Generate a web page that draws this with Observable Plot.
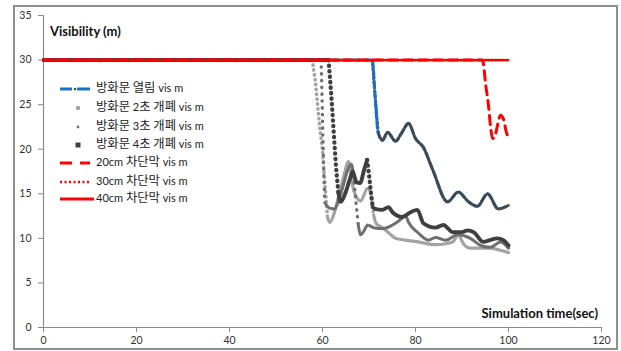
<!DOCTYPE html>
<html>
<head>
<meta charset="utf-8">
<script src="https://cdn.jsdelivr.net/npm/d3@7"></script>
<script src="https://cdn.jsdelivr.net/npm/@observablehq/plot@0.6"></script>
<style>
  html, body { margin: 0; padding: 0; background: #fff; }
  #wrap { position: relative; width: 621px; height: 351px; overflow: hidden; font-family: Lato, "Noto Sans CJK KR", sans-serif; }
  #border { position: absolute; left: 13px; top: 5px; width: 605px; height: 345px; box-sizing: border-box; border: 2px solid #8f8f8f; pointer-events: none; }
  .lbl { position: absolute; font-weight: bold; font-size: 13px; color: #111; white-space: nowrap; }
  .leg { position: absolute; left: 0; top: 0; }
  .row { position: absolute; height: 14px; font-size: 11px; color: #222; white-space: nowrap; }
  .row svg { position: absolute; left: 58px; top: 0; }
  .row span.t { position: absolute; left: 96px; top: -1px; line-height: 14px; }
  .row span.k { font-size: 12.3px; }
</style>
</head>
<body>
<div id="wrap">
  <div id="chart"></div>
  <div id="border"></div>
  <div class="lbl" style="left:50px; top:23px;">Visibility (m)</div>
  <div class="lbl" style="right:23px; top:305px;">Simulation time(sec)</div>
  <div class="leg" id="legend"></div>
</div>
<script>
// ---- data ----
const xTicks = [0, 20, 40, 60, 80, 100, 120];
const yTicks = [0, 5, 10, 15, 20, 25, 30, 35];

const seriesNames = ["방화문 열림 vis m", "방화문 2초 개폐 vis m", "방화문 3초 개폐 vis m", "방화문 4초 개폐 vis m", "20cm 차단막 vis m", "30cm 차단막 vis m", "40cm 차단막 vis m"];

const timeOpen = [0, 70.7, 71.3, 72.0, 72.9, 74.0, 75.7, 77.0, 78.5, 80.0, 81.7, 83.7, 86.9, 89.2, 91.4, 93.3, 95.5, 97.8, 100];
const visOpen  = [30, 30, 26.0, 21.8, 21.0, 21.9, 20.9, 21.8, 22.9, 21.2, 20.2, 17.7, 14.1, 15.2, 14.1, 13.6, 15.0, 13.3, 13.7];

const time2s = [0, 57.8, 58.5, 59.3, 60.0, 60.6, 61.1, 61.6, 62.5, 63.5, 64.5, 65.6, 66.7, 68.2, 69.7, 70.4, 71.0, 71.5, 72.9, 74.5, 75.7, 77.8, 80.6, 84.3, 86.5, 88.0, 89.2, 90.3, 91.8, 94.0, 96.1, 98.0, 100];
const vis2s  = [30, 30, 27.5, 23.0, 19.9, 15.5, 12.3, 11.8, 12.8, 14.8, 16.8, 18.6, 15.4, 14.2, 15.6, 15.2, 12.6, 11.7, 11.2, 10.5, 10.0, 9.8, 9.6, 9.3, 9.4, 9.6, 10.4, 9.4, 8.9, 8.9, 8.9, 8.7, 8.4];

const time3s = [0, 59.7, 59.9, 60.1, 60.3, 60.5, 61.5, 62.6, 63.5, 64.5, 65.3, 66.2, 66.7, 67.2, 67.7, 68.2, 69.0, 69.7, 71.0, 72.9, 75.7, 77.2, 77.8, 78.5, 80.6, 82.8, 84.3, 86.5, 89.0, 91.8, 94.0, 96.1, 98.3, 100];
const vis3s  = [30, 30, 26.0, 21.0, 17.0, 14.0, 13.4, 13.3, 14.3, 16.0, 17.5, 18.3, 17.0, 14.0, 11.5, 10.4, 10.9, 11.5, 11.2, 11.1, 11.7, 12.3, 12.6, 11.8, 10.6, 9.8, 10.1, 9.8, 10.4, 10.0, 9.2, 9.0, 9.6, 8.9];

const time4s = [0, 61.3, 61.9, 62.4, 62.9, 63.4, 63.9, 65.0, 65.8, 66.5, 67.3, 68.1, 68.9, 69.6, 70.0, 70.4, 70.8, 71.3, 72.9, 74.2, 75.1, 77.2, 78.5, 80.4, 81.7, 84.3, 86.0, 88.0, 90.0, 91.2, 92.5, 94.6, 96.0, 97.6, 98.9, 100];
const vis4s  = [30, 30, 26.0, 22.0, 18.0, 15.2, 14.1, 15.2, 16.5, 17.5, 16.3, 16.2, 17.6, 18.8, 17.2, 15.2, 13.5, 13.3, 13.2, 13.5, 12.9, 12.4, 12.8, 13.2, 11.7, 11.2, 11.5, 10.7, 10.7, 10.9, 10.7, 9.6, 9.8, 10.0, 9.8, 9.2];

const time20 = [0, 94.4, 95.1, 95.7, 96.1, 96.6, 97.1, 97.6, 98.3, 98.9, 99.5, 100];
const vis20  = [30, 30, 27.2, 24.9, 22.7, 21.2, 21.5, 22.6, 23.8, 23.4, 22.0, 21.2];

const time30 = [0, 100];
const vis30  = [30, 30];
const time40 = [0, 100];
const vis40  = [30, 30];

// ---- helpers ----
function toRows(ts, vs) { return ts.map((t, i) => ({t, v: vs[i]})); }
// split a series into steep (drawn dotted like sparse markers) and gentle runs
function splitRuns(ts, vs, thr) {
  const pts = toRows(ts, vs);
  const steep = [], flat = [];
  let curSteep = null, id = 0;
  for (let i = 0; i < pts.length - 1; i++) {
    const a = pts[i], b = pts[i + 1];
    const s = Math.abs((b.v - a.v) / (b.t - a.t)) > thr;
    if (s !== curSteep) { id++; curSteep = s; (s ? steep : flat).push({...a, run: id}); }
    (s ? steep : flat).push({...b, run: id});
  }
  return {steep, flat};
}

const cOpen = "#1f6fbf", c2 = "#a3a3a3", c3 = "#6f6f6f", c4 = "#3f3f3f", cRed = "#ff0000";
const thr = 3.2;
const rOpen = splitRuns(timeOpen, visOpen, thr);
const r2 = splitRuns(time2s, vis2s, thr);
const r3 = splitRuns(time3s, vis3s, thr);
const r4 = splitRuns(time4s, vis4s, thr);

function grayMarks(r, color, w, dash) {
  return [
    Plot.line(r.flat, {x: "t", y: "v", z: "run", stroke: color, strokeWidth: w, curve: "monotone-x"}),
    Plot.line(r.steep, {x: "t", y: "v", z: "run", stroke: color, strokeWidth: w + 0.4, strokeDasharray: dash, strokeLinecap: "round"})
  ];
}

const chart = Plot.plot({
  width: 621,
  height: 351,
  marginLeft: 43,
  marginRight: 20,
  marginTop: 15,
  marginBottom: 24,
  x: {domain: [0, 120], label: null},
  y: {domain: [0, 35], label: null},
  style: {fontFamily: "Lato, 'Noto Sans CJK KR', sans-serif", fontSize: "10.5px", color: "#333", background: "transparent", overflow: "visible"},
  marks: [
    Plot.axisX({ticks: xTicks, tickSize: 5, tickPadding: 4, stroke: "#8a8a8a", label: null, fill: "#333"}),
    Plot.axisY({ticks: yTicks, tickSize: 5, tickPadding: 7, stroke: "#8a8a8a", label: null, fill: "#333"}),
    Plot.ruleX([0], {stroke: "#8a8a8a", strokeWidth: 1.2}),
    Plot.ruleY([0], {stroke: "#8a8a8a", strokeWidth: 1.2}),
    // 방화문 열림
    Plot.line(rOpen.steep, {x: "t", y: "v", z: "run", stroke: c4, strokeWidth: 3, strokeDasharray: "0.5,4", strokeLinecap: "round"}),
    Plot.line(toRows(timeOpen, visOpen), {x: "t", y: "v", stroke: cOpen, strokeWidth: 3.2, strokeDasharray: "7,3", curve: "monotone-x"}),
    Plot.line(rOpen.flat.filter(d => d.run > 1), {x: "t", y: "v", z: "run", stroke: "#474747", strokeWidth: 2.6, curve: "monotone-x"}),
    // 2초 / 3초 / 4초
    ...grayMarks(r2, c2, 3.2, "0.3,4.6"),
    ...grayMarks(r3, c3, 3.0, "0.3,6.5"),
    ...grayMarks(r4, c4, 3.9, "0.3,5.2"),
    // 20cm / 30cm / 40cm
    Plot.line(toRows(time20, vis20), {x: "t", y: "v", stroke: cRed, strokeWidth: 3, strokeDasharray: "9,6", curve: "monotone-x"}),
    Plot.line(toRows(time30, vis30), {x: "t", y: "v", stroke: cRed, strokeWidth: 2.4, strokeDasharray: "1.5,2"}),
    Plot.line(toRows(time40, vis40), {x: "t", y: "v", stroke: cRed, strokeWidth: 2.3})
  ]
});
document.getElementById("chart").appendChild(chart);

// ---- legend ----
const legendTops = [82, 101, 120, 138, 156, 175, 192];
const swatches = [
  `<line x1="2" y1="7" x2="14" y2="7" stroke="${cOpen}" stroke-width="3"/><circle cx="17" cy="7" r="1.2" fill="${c4}"/><line x1="19" y1="7" x2="32" y2="7" stroke="${cOpen}" stroke-width="3"/>`,
  `<circle cx="20" cy="7" r="2.2" fill="${c2}"/>`,
  `<circle cx="20" cy="7" r="1.4" fill="${c3}"/>`,
  `<rect x="17.5" y="4.5" width="5" height="5" fill="${c4}"/>`,
  `<line x1="2" y1="7" x2="14" y2="7" stroke="${cRed}" stroke-width="3"/><line x1="22" y1="7" x2="32" y2="7" stroke="${cRed}" stroke-width="3"/>`,
  `<line x1="2" y1="7" x2="32" y2="7" stroke="${cRed}" stroke-width="2.6" stroke-dasharray="2,2.5"/>`,
  `<line x1="2" y1="7" x2="36" y2="7" stroke="${cRed}" stroke-width="3"/>`
];
// wrap Hangul runs so they can be sized like the reference's Korean glyphs
function styleName(name) {
  return name.replace(/([\uAC00-\uD7A3]+)/g, '<span class="k">$1</span>');
}
const leg = document.getElementById("legend");
seriesNames.forEach((name, i) => {
  const row = document.createElement("div");
  row.className = "row";
  row.style.top = legendTops[i] + "px";
  row.innerHTML = `<svg width="38" height="14">${swatches[i]}</svg><span class="t">${styleName(name)}</span>`;
  leg.appendChild(row);
});
</script>
</body>
</html>
